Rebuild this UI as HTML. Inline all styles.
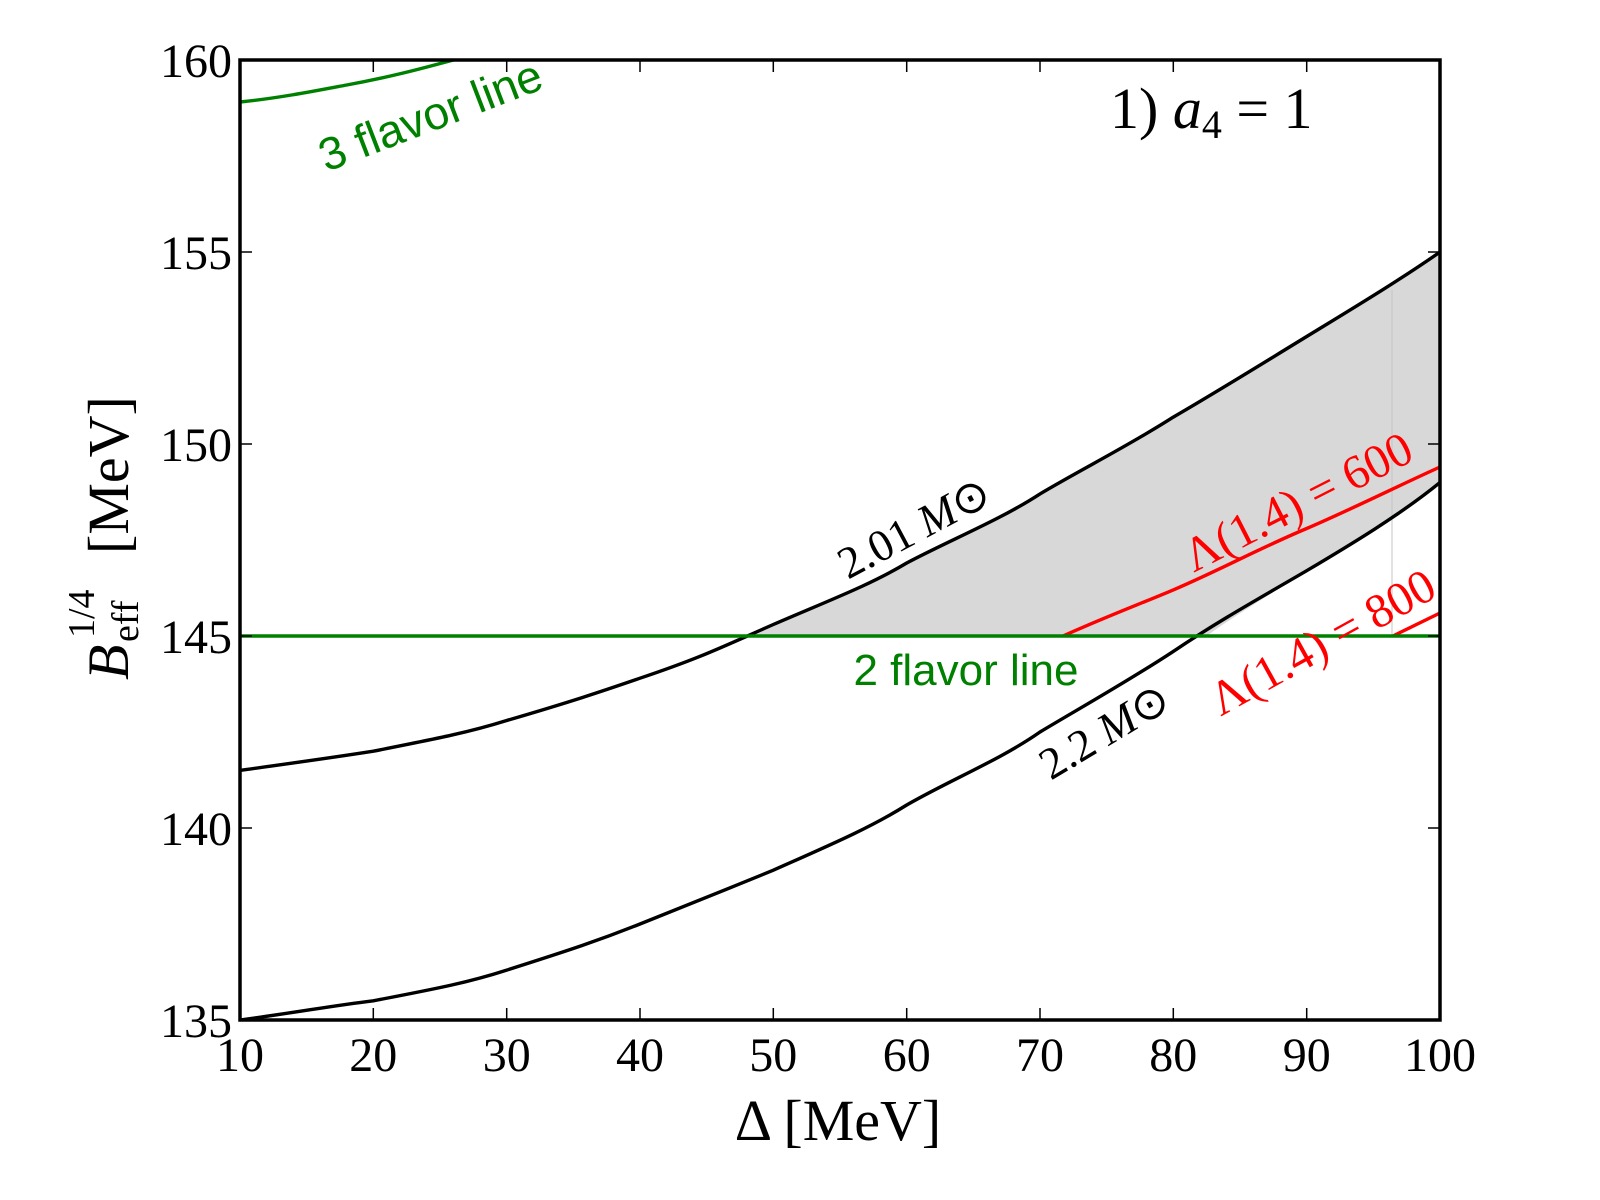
<!DOCTYPE html>
<html><head><meta charset="utf-8"><style>html,body{margin:0;padding:0;background:#fff}svg{display:block}</style></head>
<body>
<svg width="1600" height="1200" viewBox="0 0 1600 1200" xmlns="http://www.w3.org/2000/svg">
<rect width="1600" height="1200" fill="#fff"/>
<path d="M748,636 C760,631 765,629 773.3,624.5 C830,600 870,585 906.7,563 C950,540 1000,520 1040,493.9 C1080,470 1130,445 1173.3,417.1 C1220,390 1260,365 1306.7,336.5 C1350,310 1400,280 1440,252 L1440,482.4 C1400,520 1350,545 1306.7,570.7 C1270,595 1235,615 1206.7,636 Z" fill="#d8d8d8"/>
<line x1="1392" y1="290" x2="1392" y2="636" stroke="#c4c4c4" stroke-width="1"/>
<g fill="none" stroke-width="3.4">
<path d="M240,770.4 C300,762 330,758 373.3,751.2 C440,738 470,732 506.7,720.5 C570,702 600,692 640,678.2 C700,658 720,648 773.3,624.5 C830,600 870,585 906.7,563 C950,540 1000,520 1040,493.9 C1080,470 1130,445 1173.3,417.1 C1220,390 1260,365 1306.7,336.5 C1350,310 1400,280 1440,252" stroke="#000"/>
<path d="M240,1020 C300,1012 330,1006 373.3,1000.8 C440,988 470,982 506.7,970.1 C570,950 600,940 640,924 C700,900 730,888 773.3,870.2 C830,845 870,828 906.7,805 C950,780 1000,760 1040,732 C1080,708 1130,680 1173.3,651.4 C1220,620 1260,598 1306.7,570.7 C1350,545 1400,515 1440,482.4" stroke="#000"/>
<path d="M1063,636 C1110,615 1140,604 1173.3,589.9 C1220,570 1260,548 1306.7,528.5 C1350,510 1400,485 1440,467" stroke="#ff0000"/>
<path d="M1393,636 L1440,613" stroke="#ff0000"/>
<path d="M240,102 C280,98 320,90 346.7,85 C390,77 420,69 453.3,60" stroke="#008000"/>
<line x1="240" y1="636" x2="1440" y2="636" stroke="#008000"/>
</g>
<rect x="240" y="60" width="1200" height="960" fill="none" stroke="#000" stroke-width="3.5"/>
<g stroke="#000" stroke-width="1.5">
<line x1="373.3" y1="1020" x2="373.3" y2="1008"/><line x1="373.3" y1="60" x2="373.3" y2="72"/>
<line x1="506.7" y1="1020" x2="506.7" y2="1008"/><line x1="506.7" y1="60" x2="506.7" y2="72"/>
<line x1="640" y1="1020" x2="640" y2="1008"/><line x1="640" y1="60" x2="640" y2="72"/>
<line x1="773.3" y1="1020" x2="773.3" y2="1008"/><line x1="773.3" y1="60" x2="773.3" y2="72"/>
<line x1="906.7" y1="1020" x2="906.7" y2="1008"/><line x1="906.7" y1="60" x2="906.7" y2="72"/>
<line x1="1040" y1="1020" x2="1040" y2="1008"/><line x1="1040" y1="60" x2="1040" y2="72"/>
<line x1="1173.3" y1="1020" x2="1173.3" y2="1008"/><line x1="1173.3" y1="60" x2="1173.3" y2="72"/>
<line x1="1306.7" y1="1020" x2="1306.7" y2="1008"/><line x1="1306.7" y1="60" x2="1306.7" y2="72"/>
<line x1="240" y1="828" x2="252" y2="828"/><line x1="1440" y1="828" x2="1428" y2="828"/>
<line x1="240" y1="636" x2="252" y2="636"/><line x1="1440" y1="636" x2="1428" y2="636"/>
<line x1="240" y1="444" x2="252" y2="444"/><line x1="1440" y1="444" x2="1428" y2="444"/>
<line x1="240" y1="252" x2="252" y2="252"/><line x1="1440" y1="252" x2="1428" y2="252"/>
</g>
<g font-family="Liberation Serif, serif" font-size="48" fill="#000">
<g text-anchor="end">
<text x="232" y="1037">135</text><text x="232" y="845">140</text><text x="232" y="653">145</text>
<text x="232" y="461">150</text><text x="232" y="269">155</text><text x="232" y="77">160</text>
</g>
<g text-anchor="middle">
<text x="240" y="1071">10</text><text x="373.3" y="1071">20</text><text x="506.7" y="1071">30</text>
<text x="640" y="1071">40</text><text x="773.3" y="1071">50</text><text x="906.7" y="1071">60</text>
<text x="1040" y="1071">70</text><text x="1173.3" y="1071">80</text><text x="1306.7" y="1071">90</text>
<text x="1440" y="1071">100</text>
</g>
<text x="838" y="1140" text-anchor="middle" font-size="58">Δ [MeV]</text>
<g transform="translate(128,542) rotate(-90)">
<text x="-138" y="0" font-size="58" font-style="italic">B</text>
<text x="-96" y="-34" font-size="38">1/4</text>
<text x="-100" y="10" font-size="38">eff</text>
<text x="-12" y="0" font-size="58">[MeV]</text>
</g>
<text x="1110" y="128" font-size="58">1) <tspan font-style="italic">a</tspan><tspan font-size="40" dy="10">4</tspan><tspan dy="-10"> = 1</tspan></text>
<text transform="translate(921,541) rotate(-28)" text-anchor="middle" font-size="45">2.01 <tspan font-style="italic">M</tspan>⊙</text>
<text transform="translate(1112,744) rotate(-31)" text-anchor="middle" font-size="45">2.2 <tspan font-style="italic">M</tspan>⊙</text>
<text transform="translate(1305,516) rotate(-27)" text-anchor="middle" font-size="48" fill="#ff0000">Λ(1.4) = 600</text>
<text transform="translate(1330,656) rotate(-29)" text-anchor="middle" font-size="48" fill="#ff0000">Λ(1.4) = 800</text>
</g>
<g font-family="Liberation Sans, sans-serif" font-size="44" fill="#008000">
<text transform="translate(436,130) rotate(-21)" text-anchor="middle" font-size="46">3 flavor line</text>
<text x="966" y="685" text-anchor="middle">2 flavor line</text>
</g>
</svg>
</body></html>
